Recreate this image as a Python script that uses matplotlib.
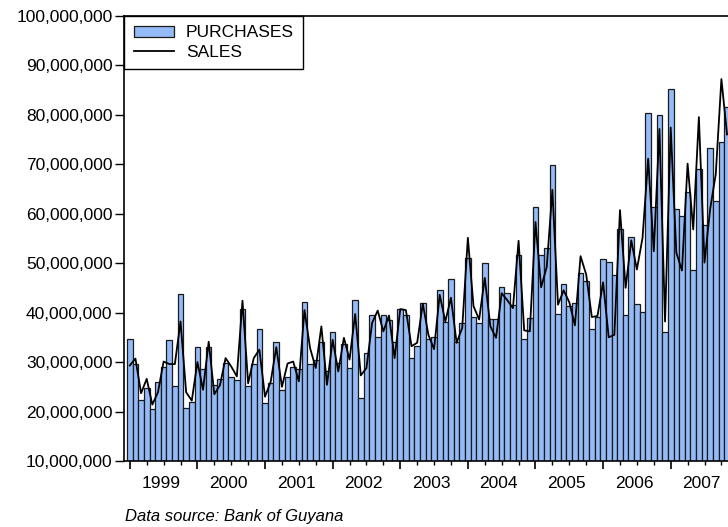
#import neccessary libraries
import matplotlib
matplotlib.use("Agg")
import matplotlib.pyplot as plt
from matplotlib.ticker import FuncFormatter, FixedLocator
import numpy as np

# monthly data, Jan 1999 to Nov 2007 (values in millions)
years = ["1999", "2000", "2001", "2002", "2003", "2004", "2005", "2006", "2007"]

purchases = [34.6, 29.7, 22.4, 24.7, 20.6, 25.9, 28.9, 34.4, 25.1, 43.8, 20.7, 22.0,
             33.0, 28.6, 33.0, 25.3, 26.6, 29.8, 27.0, 26.4, 40.8, 25.1, 29.6, 36.6,
             21.7, 25.7, 34.0, 24.3, 27.0, 29.0, 28.6, 42.2, 29.6, 30.5, 34.0, 28.2,
             36.1, 29.8, 33.7, 28.8, 42.5, 22.7, 31.8, 39.6, 35.0, 39.6, 38.4, 34.0,
             40.7, 39.6, 30.9, 33.3, 42.0, 34.7, 35.1, 44.5, 38.1, 46.7, 34.0, 37.9,
             51.1, 39.1, 37.9, 50.1, 38.6, 38.7, 45.1, 44.0, 41.6, 51.6, 34.7, 38.9,
             61.4, 51.6, 53.1, 69.8, 39.7, 45.7, 41.3, 42.0, 47.9, 46.4, 36.6, 39.1,
             50.9, 50.2, 47.6, 56.8, 39.5, 55.3, 41.8, 40.1, 80.3, 61.4, 79.9, 36.0,
             85.1, 60.9, 59.6, 64.4, 48.6, 69.1, 57.6, 73.2, 62.5, 74.5, 81.6]

sales = [29.3, 30.7, 23.7, 26.6, 21.4, 23.9, 30.1, 29.6, 29.6, 38.2, 23.9, 22.2,
         30.0, 24.4, 34.1, 23.5, 25.3, 30.8, 29.1, 27.1, 42.4, 25.7, 30.8, 32.5,
         23.0, 26.0, 33.0, 25.0, 29.7, 30.1, 26.1, 40.5, 32.8, 28.8, 37.2, 25.4,
         34.5, 28.1, 34.9, 30.5, 39.7, 27.3, 28.8, 37.9, 40.4, 36.2, 39.4, 30.8,
         40.7, 40.5, 33.2, 33.9, 41.8, 35.5, 32.6, 43.6, 38.2, 43.0, 33.9, 36.9,
         55.1, 41.3, 38.6, 47.0, 37.2, 34.9, 43.9, 42.5, 40.9, 54.5, 36.4, 36.2,
         58.3, 45.1, 49.2, 64.8, 41.6, 44.5, 42.1, 37.4, 51.4, 47.7, 39.1, 39.3,
         46.1, 35.0, 35.5, 60.7, 45.0, 54.6, 48.7, 55.1, 71.1, 52.4, 77.1, 38.2,
         77.4, 52.1, 48.5, 70.1, 56.8, 79.5, 50.1, 60.9, 68.0, 87.2, 76.0]

purchases = np.array(purchases) * 1e6
sales = np.array(sales) * 1e6
months = np.arange(len(purchases))

plt.rcParams['font.family'] = ['Liberation Sans', 'DejaVu Sans']

fig = plt.figure(figsize=(7.28, 5.27), dpi=100)
# axes runs a bit past the right edge of the picture (cropped chart)
ax = fig.add_axes([124.3 / 728, 66 / 527, (740 - 124.3) / 728, (527 - 66 - 15.7) / 527])

#bars and line
bars = ax.bar(months, purchases, width=1.0, color='#94BBF7', edgecolor='#1a1a1a',
              linewidth=0.9, label='PURCHASES', zorder=2)
line, = ax.plot(months, sales, color='black', linewidth=1.3, label='SALES', zorder=3)

ax.set_xlim(-0.976, 108.3)
ax.set_ylim(10e6, 100e6)

#y axis
ax.set_yticks(np.arange(10e6, 100.1e6, 10e6))
ax.yaxis.set_major_formatter(FuncFormatter(lambda v, p: f"{int(v):,}"))
ax.tick_params(axis='y', direction='out', length=6.5, width=1, pad=2, labelsize=12.5)

#x axis: long ticks at year start, short ticks every quarter
year_start = np.arange(0, len(years) * 12 + 1, 12)
quarters = [q for q in np.arange(0, len(years) * 12 + 1, 3) if q % 12 != 0]
ax.xaxis.set_major_locator(FixedLocator(year_start))
ax.xaxis.set_minor_locator(FixedLocator(quarters))
ax.tick_params(axis='x', which='major', direction='out', length=6, width=1.2, labelbottom=False)
ax.tick_params(axis='x', which='minor', direction='out', length=3, width=1)

#year labels in the middle of each year
sec = ax.secondary_xaxis('bottom')
sec.set_xticks(year_start[:-1] + 5.5)
sec.set_xticklabels(years)
sec.tick_params(length=0, pad=11, labelsize=12.5)
sec.spines['bottom'].set_visible(False)

for s in ['left', 'bottom', 'top']:
    ax.spines[s].set_linewidth(1.2)
    ax.spines[s].set_color('black')
ax.spines['right'].set_visible(False)

#legend, purchases first
leg = ax.legend([bars, line], ['PURCHASES', 'SALES'], loc='upper left',
                bbox_to_anchor=(0, 1), borderaxespad=0,
                fancybox=False, framealpha=1, edgecolor='black', fontsize=12.5,
                handlelength=2.3, handleheight=0.6, handletextpad=0.7,
                labelspacing=0.25, borderpad=0.55)
leg.get_frame().set_linewidth(1.0)

fig.text(125 / 728, 1 - 516 / 527, "Data source: Bank of Guyana", fontsize=12,
         style='italic', ha='left', va='center')

plt.savefig("out.png", dpi=100)
